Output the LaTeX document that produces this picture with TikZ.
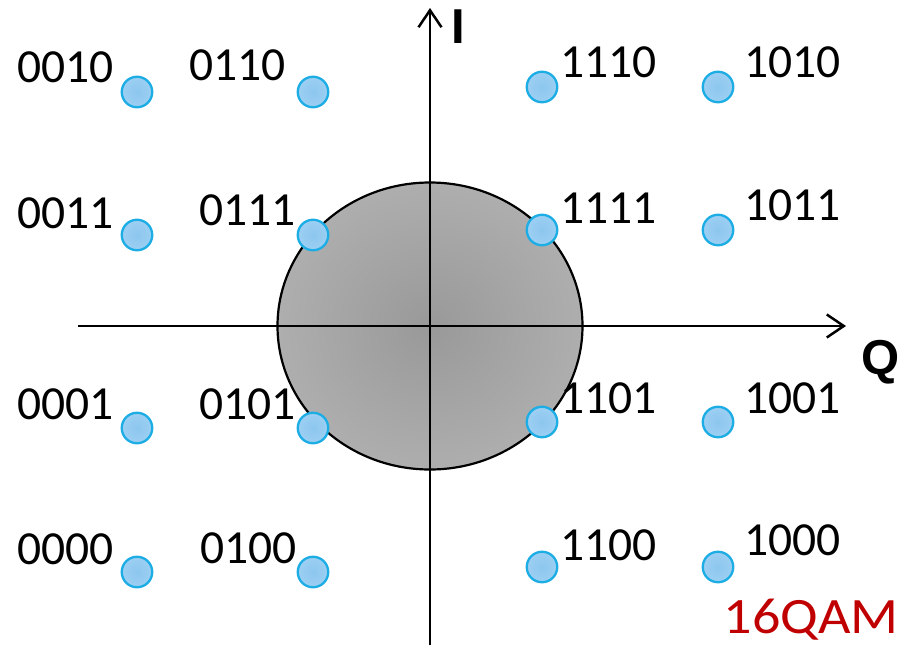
\documentclass[tikz,border=0pt]{standalone}
\usepackage{fontspec}
\setmainfont{Carlito}
\newfontfamily\axisfont{Liberation Sans}
\usetikzlibrary{arrows.meta}
\definecolor{ptfill}{HTML}{9DCFF3}
\definecolor{ptinner}{HTML}{8CC6EE}
\definecolor{ptedge}{HTML}{1BADE4}
\definecolor{discin}{HTML}{999999}
\definecolor{discout}{HTML}{AEAEAE}
\definecolor{qamred}{HTML}{C00000}
\begin{document}
\begin{tikzpicture}[x=1pt, y=-1pt]
        \tikzset{Point/.style={circle, draw=ptedge, line width=2.3pt,
                inner color=ptinner, outer color=ptfill,
                minimum size=30.5pt, inner sep=0pt},
                Bits/.style={font=\fontsize{47.5}{47.5}\selectfont, inner sep=0pt},
                AxisName/.style={font=\axisfont\bfseries\fontsize{49}{49}\selectfont, inner sep=0pt},
                Axis/.style={line width=2.5pt, -{Straight Barb[length=17pt, width=23pt]}}}
        \useasboundingbox (0,0) rectangle (904,645);
        \coordinate (O) at (430,326);
        \coordinate (Qstart) at (78,326);
        \coordinate (Qend) at (846,326);
        \coordinate (Istart) at (430,645);
        \coordinate (Iend) at (430,8);
        \draw[line width=2.2pt, inner color=discin, outer color=discout]
                (O) ellipse [x radius=152.5, y radius=143.5];
        \draw[Axis] (Qstart) -- (Qend);
        \draw[Axis] (Istart) -- (Iend);
        \node[AxisName, anchor=base] (I) at (458,43) {I};
        \node[AxisName, anchor=base] (Q) at (881,374) {Q};
        \node[Point] (p0010) at (137,92) {};
        \node[Point] (p0110) at (313,92) {};
        \node[Point] (p0011) at (137,235) {};
        \node[Point] (p0111) at (313,235) {};
        \node[Point] (p0001) at (137,428) {};
        \node[Point] (p0101) at (313,428) {};
        \node[Point] (p0000) at (137,572) {};
        \node[Point] (p0100) at (313,572) {};
        \node[Point] (p1110) at (542,87) {};
        \node[Point] (p1010) at (718,87) {};
        \node[Point] (p1111) at (542,230) {};
        \node[Point] (p1011) at (718,230) {};
        \node[Point] (p1101) at (542,422) {};
        \node[Point] (p1001) at (718,422) {};
        \node[Point] (p1100) at (542,567) {};
        \node[Point] (p1000) at (718,567) {};
        \node[Bits, anchor=base east] at ([shift={(-7,-10)}]p0010.west) {0010};
        \node[Bits, anchor=base east] at ([shift={(-11,-12)}]p0110.west) {0110};
        \node[Bits, anchor=base east] at ([shift={(-7,-7)}]p0011.west) {0011};
        \node[Bits, anchor=base east] at ([shift={(-1,-10)}]p0111.west) {0111};
        \node[Bits, anchor=base east] at ([shift={(-7,-9)}]p0001.west) {0001};
        \node[Bits, anchor=base east] at ([shift={(-1,-9)}]p0101.west) {0101};
        \node[Bits, anchor=base east] at ([shift={(-7,-8)}]p0000.west) {0000};
        \node[Bits, anchor=base east] at ([shift={(0,-9)}]p0100.west) {0100};
        \node[Bits, anchor=base west] at ([shift={(2,-10)}]p1110.east) {1110};
        \node[Bits, anchor=base west] at ([shift={(10,-10)}]p1010.east) {1010};
        \node[Bits, anchor=base west] at ([shift={(2,-7)}]p1111.east) {1111};
        \node[Bits, anchor=base west] at ([shift={(10,-10)}]p1011.east) {1011};
        \node[Bits, anchor=base west] at ([shift={(2,-9)}]p1101.east) {1101};
        \node[Bits, anchor=base west] at ([shift={(10,-9)}]p1001.east) {1001};
        \node[Bits, anchor=base west] at ([shift={(2,-7)}]p1100.east) {1100};
        \node[Bits, anchor=base west] at ([shift={(10,-12)}]p1000.east) {1000};
        \node[inner sep=0pt, anchor=base east, text=qamred,
                font=\fontsize{51}{51}\selectfont] (qam) at (899,633) {\scalebox{1.1}[1]{16QAM}};
    \end{tikzpicture}
\end{document}
